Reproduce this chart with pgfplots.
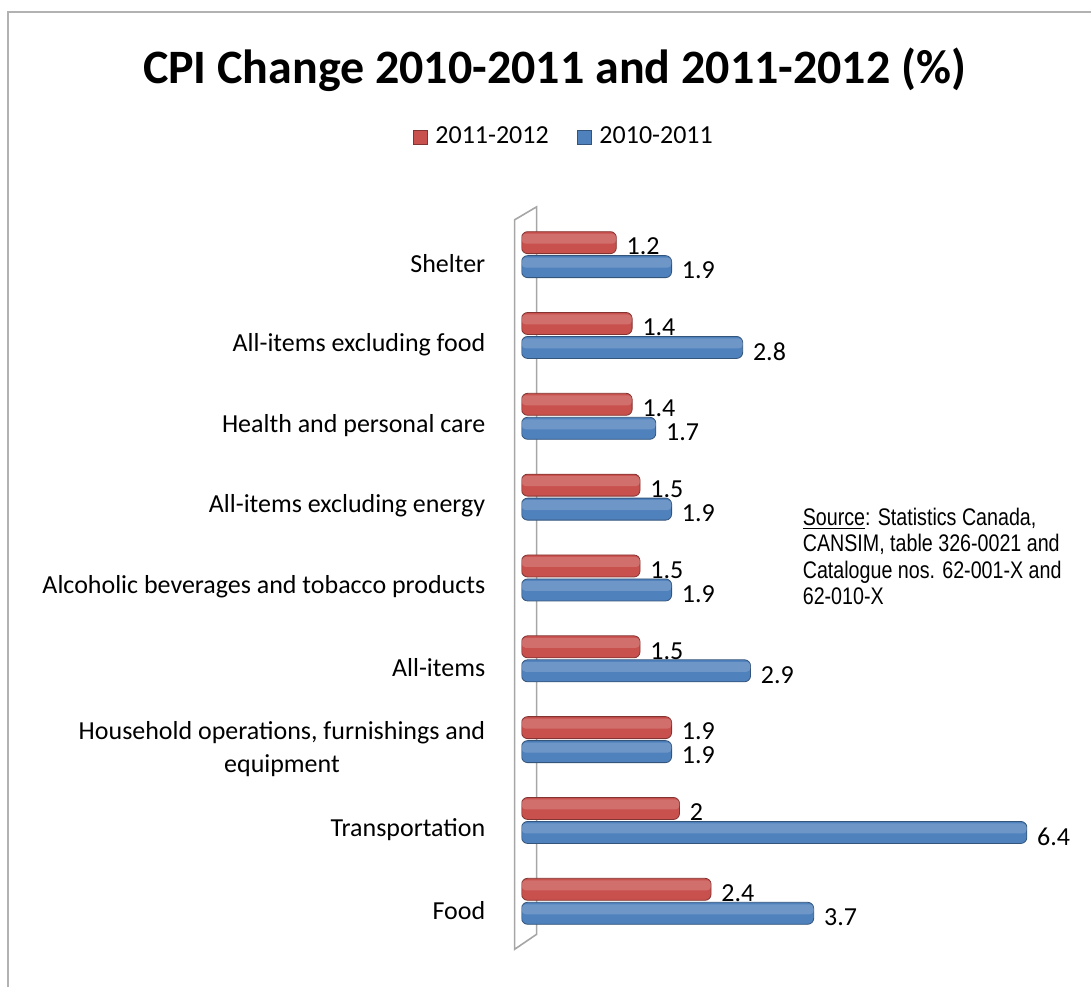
\documentclass[border=0pt]{standalone}
\usepackage{fontspec}
\usepackage{pgfplots}
\pgfplotsset{compat=1.18}
\setmainfont{Carlito}
\newfontfamily\narrowfont[FakeStretch=0.82]{Liberation Sans}

\definecolor{redbar}{RGB}{200,80,77}
\definecolor{bluebar}{RGB}{79,129,189}

\begin{document}
\begin{tikzpicture}
% page = 1092 x 988 px at 0.5pt per px
\path (0,0) rectangle (546pt,494pt);
\begin{scope}[x=0.5pt,y=-0.5pt,yshift=494pt]
  \draw[gray!60, line width=0.8pt] (8,988) -- (8,12) -- (1092,12);
  % the 3D wall
  \draw[gray!70, line width=0.8pt] (515,220) -- (537,207) -- (537,935) -- (515,950) -- cycle;
  \node[font=\fontsize{24}{28}\selectfont\bfseries, anchor=base] at (555,84)
    {CPI Change 2010-2011 and 2011-2012 (\%)};
  \node[font=\narrowfont\fontsize{12}{13.25}\selectfont, anchor=north west, align=left, inner sep=0pt]
    at (803,508) {\underline{Source}: Statistics Canada,\\ CANSIM, table 326-0021 and\\
      Catalogue nos. 62-001-X and\\ 62-010-X};
\end{scope}

\pgfplotstableread{
y red blue
8 1.2 1.9
7 1.4 2.8
6 1.4 1.7
5 1.5 1.9
4 1.5 1.9
3 1.5 2.9
2 1.9 1.9
1 2   6.4
0 2.4 3.7
}\cpidata

\begin{axis}[
    at={(261pt,18.75pt)}, anchor=south west,
    scale only axis, width=276.5pt, height=372.1pt,
    xmin=0, xmax=7, ymin=-0.6, ymax=8.6,
    axis line style={draw=none},
    xtick=\empty,
    ytick={0,...,8},
    yticklabels={Food, Transportation, {Household operations, furnishings and\\equipment},
      All-items, Alcoholic beverages and tobacco products, All-items excluding energy,
      Health and personal care, All-items excluding food, Shelter},
    major tick length=0pt,
    yticklabel style={font=\fontsize{13}{16.5}\selectfont, align=center, inner sep=0pt,
      xshift=-18pt, yshift=-4.5pt},
    xbar, bar width=11pt,
    /pgf/number format/assume math mode=true,
    legend columns=2,
    legend style={at={(0.078,1.093)}, anchor=center, draw=none, fill=none,
      font=\fontsize{13}{15}\selectfont,
      /tikz/every even column/.append style={column sep=12pt}},
    legend image code/.code={\fill[#1, sharp corners] (0pt,-3.5pt) rectangle (7pt,3.5pt);
      \path (9pt,0pt);},
    lbl/.style={nodes near coords, nodes near coords style={font=\fontsize{13}{15}\selectfont,
      text=black, anchor=west, xshift=4pt, yshift=-2pt, inner sep=1pt}},
]
\addplot[lbl, fill=redbar, draw=redbar!65!black, line width=0.4pt, bar shift=6pt, rounded corners=3pt]
  table[x=red, y=y] {\cpidata};
\addlegendentry{2011-2012}
\addplot[lbl, fill=bluebar, draw=bluebar!65!black, line width=0.4pt, bar shift=-6pt, rounded corners=3pt]
  table[x=blue, y=y] {\cpidata};
\addlegendentry{2010-2011}
% cylinder highlights
\addplot[forget plot, fill=white, opacity=0.18, draw=none, bar width=5pt, bar shift=8pt,
    rounded corners=2pt] table[x=red, y=y] {\cpidata};
\addplot[forget plot, fill=white, opacity=0.18, draw=none, bar width=5pt, bar shift=-4pt,
    rounded corners=2pt] table[x=blue, y=y] {\cpidata};
\end{axis}
\end{tikzpicture}
\end{document}
